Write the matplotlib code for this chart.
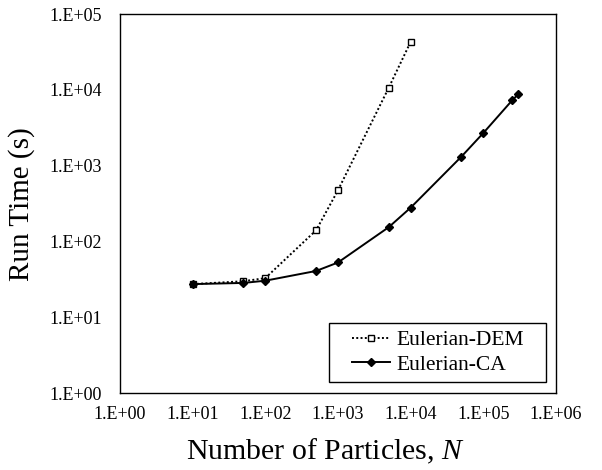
import numpy as np
import matplotlib
matplotlib.use("Agg")
import matplotlib.pyplot as plt
from matplotlib.patches import Rectangle
from matplotlib.ticker import FixedLocator, FuncFormatter, NullLocator

plt.rcParams['font.family'] = ['Liberation Serif', 'DejaVu Serif']
plt.rcParams['mathtext.fontset'] = 'custom'
plt.rcParams['mathtext.it'] = 'Liberation Serif:italic'
plt.rcParams['mathtext.rm'] = 'Liberation Serif'

# Run time vs number of particles
n_dem = [10, 50, 100, 500, 1000, 5000, 10000]
t_dem = [27.5, 30, 33, 141, 475, 10700, 43000]

n_ca = [10, 50, 100, 500, 1000, 5000, 10000, 50000, 100000, 250000, 300000]
t_ca = [27.5, 28.5, 30.5, 41, 53, 155, 280, 1320, 2700, 7300, 8700]

x_ticks = [1e0, 1e1, 1e2, 1e3, 1e4, 1e5, 1e6]
y_ticks = [1e0, 1e1, 1e2, 1e3, 1e4, 1e5]

fig = plt.figure(figsize=(6.02, 4.70), dpi=100)
ax = fig.add_axes([0.1993, 0.1632, 0.7243, 0.8070])

ax.plot(n_dem, t_dem, linestyle=(0, (1, 1.2)), color='black', linewidth=1.4,
        marker='s', markersize=4.5, markerfacecolor='white',
        markeredgecolor='black', markeredgewidth=1.0, label='Eulerian-DEM')
ax.plot(n_ca, t_ca, linestyle='-', color='black', linewidth=1.4,
        marker='D', markersize=3.8, markerfacecolor='black',
        markeredgecolor='black', label='Eulerian-CA')

ax.set_xscale('log')
ax.set_yscale('log')
ax.set_xlim(1e0, 1e6)
ax.set_ylim(1e0, 1e5)

fmt = FuncFormatter(lambda v, pos: f"1.E+{int(round(np.log10(v))):02d}")
ax.xaxis.set_major_locator(FixedLocator(x_ticks))
ax.yaxis.set_major_locator(FixedLocator(y_ticks))
ax.xaxis.set_minor_locator(NullLocator())
ax.yaxis.set_minor_locator(NullLocator())
ax.xaxis.set_major_formatter(fmt)
ax.yaxis.set_major_formatter(fmt)
ax.tick_params(axis='both', length=0, labelsize=13)
ax.tick_params(axis='x', pad=9)
ax.tick_params(axis='y', pad=13)

for s in ax.spines.values():
    s.set_color('black')
    s.set_linewidth(1.0)

ax.set_xlabel('Number of Particles, $N$', fontsize=21.5, labelpad=10)
ax.xaxis.label.set_x(0.472)
ax.set_ylabel('Run Time (s)', fontsize=21, labelpad=10)

# legend box drawn separately so the entries can sit inset like the original
box = Rectangle((0.48, 0.029), 0.497, 0.157, transform=ax.transAxes,
                facecolor='white', edgecolor='black', linewidth=1.0, zorder=4)
ax.add_patch(box)
leg = ax.legend(loc='center left', bbox_to_anchor=(0.532, 0.1075),
                fontsize=15.5, frameon=False, handlelength=1.75,
                handletextpad=0.33, borderpad=0, labelspacing=0.2,
                borderaxespad=0)
leg.set_zorder(5)

fig.savefig('out.png', dpi=100)
